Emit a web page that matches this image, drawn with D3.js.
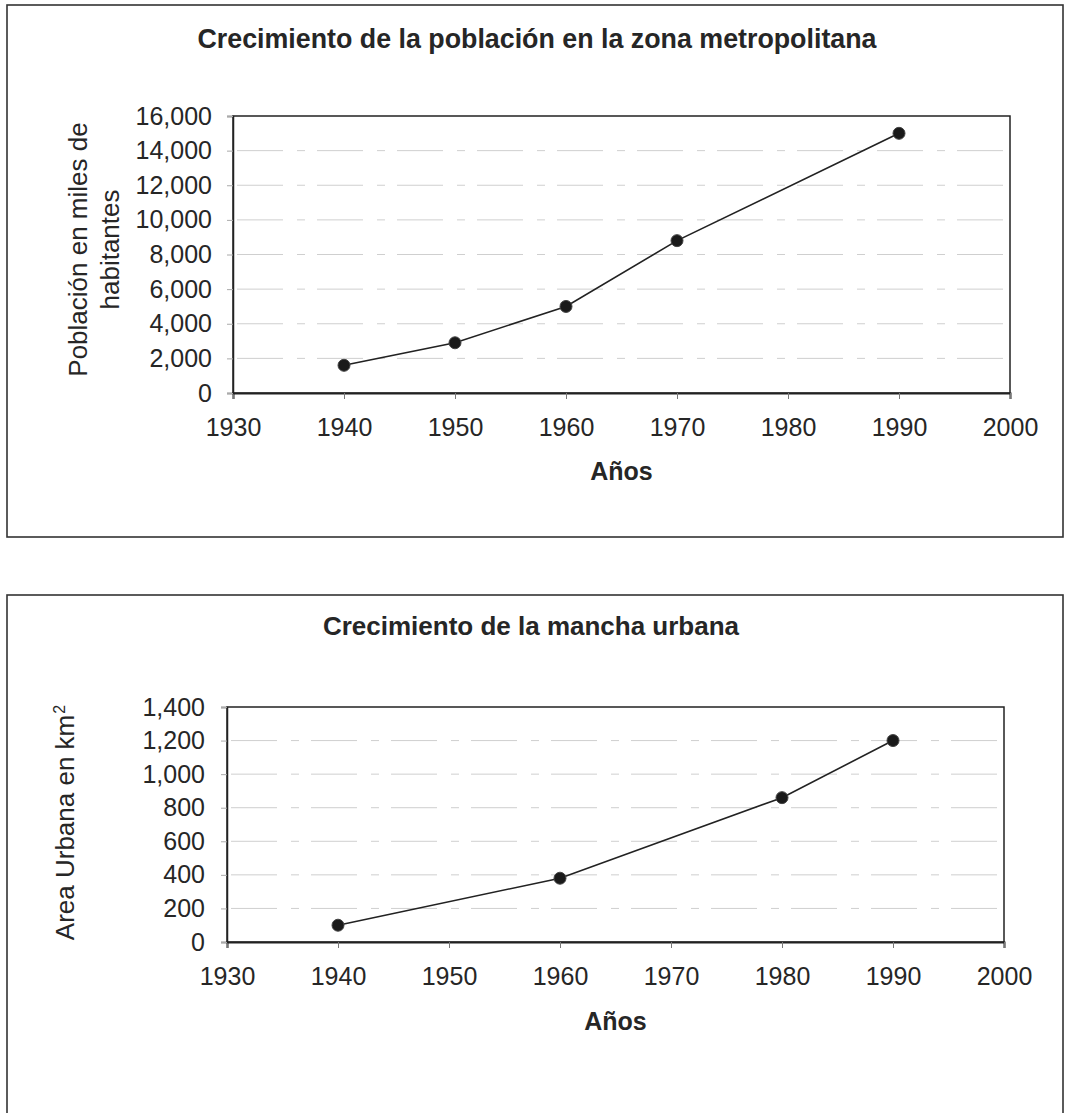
<!DOCTYPE html>
<html><head><meta charset="utf-8">
<script src="https://cdn.jsdelivr.net/npm/d3@7"></script>
<style>
html,body{margin:0;padding:0;background:#fff;}
svg{display:block;font-family:"Liberation Sans",Arial,sans-serif;}
</style></head>
<body>
<svg id="c" width="1065" height="1113"></svg>
<script>
// ---- Data ----
const popYears = [1940, 1950, 1960, 1970, 1990];
const popValues = [1600, 2900, 5000, 8800, 15000];
const popTicks = [0, 2000, 4000, 6000, 8000, 10000, 12000, 14000, 16000];

const areaYears = [1940, 1960, 1980, 1990];
const areaValues = [100, 380, 860, 1200];
const areaTicks = [0, 200, 400, 600, 800, 1000, 1200, 1400];

const yearTicks = [1930, 1940, 1950, 1960, 1970, 1980, 1990, 2000];

const titles = ["Crecimiento de la población en la zona metropolitana", "Crecimiento de la mancha urbana"];
const xTitle = "Años";

const svg = d3.select("#c");
const ink = "#262626";
const fmt = d3.format(",");

function drawChart(cfg) {
  const g = svg.append("g");
  // outer frame
  g.append("rect").attr("x", cfg.frame[0]).attr("y", cfg.frame[1])
    .attr("width", cfg.frame[2] - cfg.frame[0]).attr("height", cfg.frame[3] - cfg.frame[1])
    .attr("fill", "none").attr("stroke", "#333").attr("stroke-width", 1.6);

  // title
  g.append("text").attr("x", cfg.titleX).attr("y", cfg.titleY)
    .attr("text-anchor", "middle").attr("font-size", cfg.titleSize).attr("font-weight", "bold")
    .attr("fill", ink).text(cfg.title);

  const x = d3.scaleLinear().domain([1930, 2000]).range([cfg.left, cfg.right]);
  const y = d3.scaleLinear().domain([0, cfg.yMax]).range([cfg.bottom, cfg.top]);

  // gridlines
  g.append("g").selectAll("line").data(cfg.yTicks.filter(v => v > 0 && v < cfg.yMax))
    .join("line")
    .attr("x1", cfg.left + 4).attr("x2", cfg.right - 4)
    .attr("y1", d => y(d)).attr("y2", d => y(d))
    .attr("stroke", "#cfcfcf").attr("stroke-width", 1)
    .attr("stroke-dasharray", "46,14,8,12");

  // plot box
  g.append("rect").attr("x", cfg.left).attr("y", cfg.top)
    .attr("width", cfg.right - cfg.left).attr("height", cfg.bottom - cfg.top)
    .attr("fill", "none").attr("stroke", "#222").attr("stroke-width", 1.5);

  // axes
  const xAxis = d3.axisBottom(x).tickValues(yearTicks).tickFormat(d3.format("d"))
    .tickSize(6).tickPadding(19);
  const gx = g.append("g").attr("transform", `translate(0,${cfg.bottom})`).call(xAxis);
  gx.select(".domain").attr("stroke", "#222").attr("stroke-width", 2);
  gx.selectAll(".tick line").attr("stroke", "#777");
  gx.selectAll("text").attr("font-size", 25).attr("fill", ink)
    .attr("font-family", "Liberation Sans, Arial, sans-serif");

  const yAxis = d3.axisLeft(y).tickValues(cfg.yTicks).tickFormat(fmt)
    .tickSize(6).tickPadding(cfg.yPad);
  const gy = g.append("g").attr("transform", `translate(${cfg.left},0)`).call(yAxis);
  gy.select(".domain").attr("stroke", "#222").attr("stroke-width", 1.5);
  gy.selectAll(".tick line").attr("stroke", "#aaa");
  gy.selectAll("text").attr("font-size", 25).attr("fill", ink)
    .attr("font-family", "Liberation Sans, Arial, sans-serif");

  // line + markers
  const pts = cfg.xs.map((d, i) => [d, cfg.ys[i]]);
  g.append("path").datum(pts)
    .attr("d", d3.line().x(d => x(d[0])).y(d => y(d[1])))
    .attr("fill", "none").attr("stroke", "#222").attr("stroke-width", 1.6);
  g.append("g").selectAll("circle").data(pts).join("circle")
    .attr("cx", d => x(d[0])).attr("cy", d => y(d[1])).attr("r", 6)
    .attr("fill", "#1a1a1a").attr("stroke", "#444").attr("stroke-width", 1);

  // x title
  g.append("text").attr("x", (cfg.left + cfg.right) / 2).attr("y", cfg.xTitleY)
    .attr("text-anchor", "middle").attr("font-size", 25).attr("font-weight", "bold")
    .attr("fill", ink).text(xTitle);

  // y title
  const cy = (cfg.top + cfg.bottom) / 2;
  cfg.yLabel(g, cy);
}

drawChart({
  frame: [7, 5, 1063, 537],
  title: titles[0], titleX: 537, titleY: 48, titleSize: 26.8,
  left: 233, right: 1010, top: 116, bottom: 393,
  yMax: 16000, yTicks: popTicks, xs: popYears, ys: popValues, yPad: 15,
  xTitleY: 480,
  yLabel: (g, cy) => {
    const t = g.append("text").attr("transform", `translate(78,${cy - 5}) rotate(-90)`)
      .attr("text-anchor", "middle").attr("font-size", 26).attr("fill", ink);
    t.append("tspan").attr("x", 0).attr("dy", "0.36em").text("Población en miles de");
    t.append("tspan").attr("x", 0).attr("dy", 32).text("habitantes");
  }
});

drawChart({
  frame: [7, 595, 1063, 1125],
  title: titles[1], titleX: 531, titleY: 635, titleSize: 26,
  left: 227, right: 1004, top: 707, bottom: 942,
  yMax: 1400, yTicks: areaTicks, xs: areaYears, ys: areaValues, yPad: 16,
  xTitleY: 1030,
  yLabel: (g, cy) => {
    const t = g.append("text").attr("transform", `translate(65,${cy - 2}) rotate(-90)`)
      .attr("text-anchor", "middle").attr("font-size", 26).attr("fill", ink);
    t.append("tspan").attr("dy", "0.36em").text("Area Urbana en km");
    t.append("tspan").attr("dy", "-0.6em").attr("dx", 1).attr("font-size", 16).text("2");
  }
});
</script>
</body></html>
